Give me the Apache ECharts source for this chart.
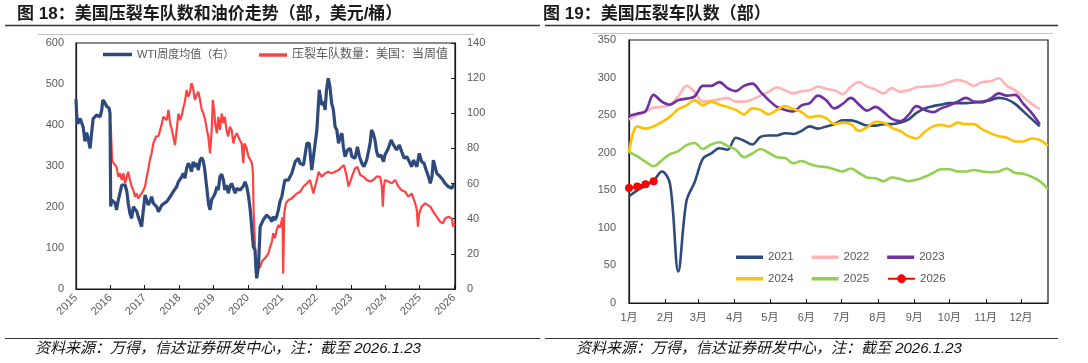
<!DOCTYPE html>
<html><head><meta charset="utf-8">
<script src="https://cdn.jsdelivr.net/npm/echarts@6/dist/echarts.min.js"></script>
<style>html,body{margin:0;padding:0;background:#fff}#c{width:1088px;height:363px}</style>
</head><body><div id="c"></div><script>
// ---------- Left chart data (decimal year, value) ----------
const wtiYears = [2015.00,2015.02,2015.05,2015.08,2015.12,2015.17,2015.21,2015.26,2015.31,2015.36,2015.41,2015.46,2015.50,2015.55,2015.60,2015.65,2015.70,2015.75,2015.78,2015.84,2015.89,2015.96,2015.99,
2016.01,2016.04,2016.09,2016.14,2016.18,2016.23,2016.28,2016.33,2016.38,2016.43,2016.48,2016.52,2016.57,2016.62,2016.67,2016.72,2016.77,2016.81,2016.86,2016.91,2016.96,
2017.01,2017.06,2017.10,2017.15,2017.20,2017.25,2017.30,2017.35,2017.40,2017.45,2017.50,2017.54,2017.64,2017.74,2017.83,2017.93,2017.98,
2018.03,2018.08,2018.12,2018.17,2018.22,2018.27,2018.32,2018.36,2018.41,2018.46,2018.51,2018.56,2018.61,2018.66,2018.70,2018.74,2018.78,2018.82,2018.86,2018.90,2018.95,
2019.00,2019.05,2019.10,2019.14,2019.19,2019.24,2019.29,2019.33,2019.38,2019.43,2019.48,2019.53,2019.58,2019.63,2019.68,2019.72,2019.77,2019.82,2019.87,2019.92,2019.97,
2020.02,2020.07,2020.12,2020.16,2020.21,2020.24,2020.26,2020.31,2020.36,2020.45,2020.55,2020.60,2020.65,2020.70,2020.74,2020.79,2020.84,2020.89,2020.94,2020.99,
2021.03,2021.08,2021.13,2021.18,2021.28,2021.38,2021.47,2021.52,2021.62,2021.72,2021.79,2021.86,2021.91,
2022.01,2022.08,2022.15,2022.20,2022.25,2022.29,2022.34,2022.39,2022.44,2022.49,2022.54,2022.59,2022.64,2022.69,2022.74,2022.78,2022.83,2022.90,2022.98,
2023.03,2023.12,2023.19,2023.25,2023.32,2023.38,2023.46,2023.56,2023.60,2023.65,2023.70,2023.75,2023.80,2023.87,2023.95,2023.99,
2024.09,2024.17,2024.24,2024.33,2024.41,2024.48,2024.55,2024.63,2024.70,2024.77,2024.82,2024.87,2024.92,2024.99,
2025.06,2025.13,2025.19,2025.26,2025.31,2025.36,2025.40,2025.45,2025.50,2025.60,2025.68,2025.74,2025.84,2025.94,2025.98,2026.02];
const wtiValues = [108,99,94,95,97,96,92,84,89,85,80,90,97,98,99,100,98,102,107.6,106,104,103,100,
47,50.6,51.6,48.8,45,50.6,54.5,59.2,60.1,59.2,55.4,48.8,43,40.2,46.8,46.8,44,41.2,38.3,35.5,45,
53.5,52.5,47.8,49.7,52.5,48.8,49.7,46.8,44,45.9,47.8,48.8,49.7,52.5,55.4,58.2,61,
62,63.9,65.8,63,68.7,71.6,69.6,66.8,72.4,69.6,71.6,67.7,73.4,74.7,73,69,62,55,48,45,51,
52.5,54.5,58.3,56.3,63.9,65.4,62,56.3,59.2,54.5,58.3,60.1,57.3,54.5,57.3,58.3,56.3,56.5,58.5,61,58.3,
53,45,33.6,24,22.2,10.8,6.1,12.7,35.5,39.3,42.1,43.1,40.2,38.3,41.2,39.3,41.2,45,50,52.5,
57,62,63,62,65.8,72.5,74.4,71.5,70.6,82.9,82.9,67.7,75.3,
90.5,113.3,104.7,106.6,101.9,113.3,119.9,115.2,105.7,101.9,92.4,90.5,82.9,86.7,88.6,81,75.3,79.1,80.1,
75.3,74.4,80.9,75.3,71.5,69.6,73.4,82.9,90.5,88.6,84.8,78.1,75.3,76.3,72.5,76.3,
80.1,84.8,82,79.1,82,78.1,74.4,75.3,72.5,69.6,73.4,71.5,69.6,77.2,
72.5,71.5,67.7,63.9,60.1,63.9,73.4,69.6,65.8,63.9,62,60.1,58.2,57.3,59.2,59];

const fracYears = [2016.00,2016.02,2016.05,2016.09,2016.14,2016.18,2016.23,2016.28,2016.33,2016.38,2016.43,2016.48,2016.52,2016.57,2016.62,2016.67,2016.72,2016.77,2016.81,2016.86,2016.91,2016.96,
2017.01,2017.06,2017.10,2017.15,2017.20,2017.25,2017.33,2017.40,2017.45,2017.50,2017.54,2017.59,2017.64,2017.69,2017.74,2017.79,2017.83,2017.88,2017.93,2017.98,
2018.03,2018.08,2018.12,2018.17,2018.22,2018.27,2018.32,2018.36,2018.41,2018.46,2018.51,2018.56,2018.61,2018.66,2018.71,2018.76,2018.81,2018.85,2018.90,2018.95,2018.98,
2019.02,2019.05,2019.10,2019.14,2019.19,2019.24,2019.29,2019.33,2019.38,2019.43,2019.48,2019.53,2019.58,2019.63,2019.68,2019.72,2019.77,2019.82,2019.87,2019.90,2019.95,
2020.02,2020.07,2020.12,2020.15,2020.17,2020.21,2020.24,2020.28,2020.36,2020.41,2020.45,2020.50,2020.55,2020.60,2020.65,2020.70,2020.74,2020.79,2020.84,2020.89,2020.94,2020.99,
2021.01,2021.03,2021.06,2021.11,2021.18,2021.28,2021.33,2021.43,2021.52,2021.62,2021.72,2021.81,2021.86,2021.91,2021.96,
2022.01,2022.06,2022.15,2022.25,2022.34,2022.44,2022.54,2022.64,2022.74,2022.80,2022.88,2022.93,
2023.03,2023.12,2023.19,2023.27,2023.37,2023.46,2023.56,2023.65,2023.75,2023.80,2023.85,2023.90,2023.93,2023.96,2023.99,
2024.09,2024.19,2024.29,2024.38,2024.48,2024.58,2024.67,2024.77,2024.87,2024.92,2024.95,2024.99,
2025.06,2025.16,2025.21,2025.31,2025.40,2025.50,2025.60,2025.68,2025.74,2025.84,2025.94,2025.97,2026.02];
const fracValues = [404,380,315,307,310,298,274,282,266,282,258,274,286,266,250,241,225,233,221,225,233,241,
250,274,290,315,331,355,372,373,388,404,420,424,412,437,404,388,372,351,388,428,
412,424,441,457,485,469,481,502,489,461,473,481,461,437,428,412,388,372,331,388,461,
437,404,380,420,388,428,404,420,388,372,396,388,355,372,380,372,363,355,307,355,347,
323,319,307,282,185,104,46,42,54,67,71,75,75,87,103,115,136,124,144,156,150,168,
175,38,185,209,217,221,225,233,237,250,258,266,262,233,250,
266,286,274,282,286,282,286,290,298,302,274,250,
274,294,298,278,274,266,262,266,274,278,274,250,201,250,266,
262,258,266,250,241,237,225,233,209,193,152,185,
201,209,213,201,188,176,164,160,172,176,172,152,160];

// ---------- Right chart data (weekly, index = week of year) ----------
const monthStartDays = [0,31,59,90,120,151,181,212,243,273,304,334];
const monthLabels = ['1月','2月','3月','4月','5月','6月','7月','8月','9月','10月','11月','12月'];
const y2021 = [142,150,156,163,175,158,42,136,161,192,199,206,204,220,216,211,221,223,223,226,225,229,235,232,235,238,243,243,240,236,236,238,238,240,244,253,259,262,264,266,266,266,267,268,270,273,271,265,255,245,235];
const y2022 = [244,250,255,260,261,264,275,289,281,268,269,271,273,268,268,271,276,281,287,283,279,282,283,288,285,283,278,288,294,288,284,279,286,281,283,287,288,289,290,294,297,294,289,294,295,299,289,283,274,265,258];
const y2023 = [249,252,255,277,268,264,270,272,275,289,289,294,286,282,289,292,281,270,261,257,255,263,266,276,270,259,265,273,264,256,261,254,245,242,250,262,257,254,259,263,268,273,268,267,272,279,276,277,265,253,238];
const y2024 = [200,235,232,235,241,248,258,263,270,263,268,264,261,257,251,259,257,251,257,262,258,254,247,249,246,238,240,238,229,234,241,240,233,229,222,219,228,235,237,235,240,238,238,231,226,222,220,215,215,219,217,209];
const y2025 = [201,195,188,182,190,198,202,210,213,205,211,214,209,204,194,199,205,200,194,193,186,189,185,182,181,178,175,179,173,167,166,162,167,165,162,164,168,173,178,178,175,175,177,175,174,175,179,173,172,168,162,152];
const y2026 = [153,155,158,162];
const yearNames = ['2021','2022','2023','2024','2025','2026'];
const yearColors = ['#2F4B7C','#FFB5B5','#7030A0','#FFC000','#92D050','#FF0000'];

const FONT = 'Arial, "Liberation Sans", "Noto Sans CJK SC", sans-serif';
const GRAY = '#595959';
const AX = '#1a1a1a';

const pairs = (xs, ys) => xs.map((x, i) => [x, ys[i]]);
const weekly = ys => ys.map((v, i) => [i * 7, v]);

const rightSeries = [y2021, y2022, y2023, y2024, y2025, y2026].map((arr, k) => ({
  name: yearNames[k], type: 'line', xAxisIndex: 1, yAxisIndex: 2,
  data: weekly(arr), smooth: k === 5 ? false : 0.35,
  symbol: k === 5 ? 'circle' : 'none', symbolSize: 8, showSymbol: k === 5,
  lineStyle: { color: yearColors[k], width: 2.6 },
  itemStyle: { color: yearColors[k] },
  z: 2 + k
}));

const lineLegend = (names, left, top, fontSize, w) => ({
  data: names.map(n => ({ name: n, icon: 'rect' })), left, top,
  itemWidth: w, itemHeight: 3.5, itemGap: 18,
  textStyle: { fontSize, color: GRAY, fontFamily: FONT }
});

const chart = echarts.init(document.getElementById('c'), null, { renderer: 'canvas' });
chart.setOption({
  backgroundColor: '#fff',
  animation: false,
  textStyle: { fontFamily: FONT },
  grid: [
    { left: 76, top: 43, width: 379, height: 246, show: true, borderColor: AX, borderWidth: 1.2 },
    { left: 629, top: 40, width: 419, height: 263, show: true, borderColor: AX, borderWidth: 1.2 }
  ],
  legend: [
    lineLegend(['WTI周度均值（右）'], 98, 44, 11, 29),
    lineLegend(['压裂车队数量：美国：当周值'], 254, 44, 12, 28),
    lineLegend(['2021', '2022', '2023'], 731, 246.5, 11.5, 27),
    lineLegend(['2024', '2025'], 731, 268, 11.5, 27),
    { data: ['2026'], left: 882, top: 268, itemWidth: 27, itemHeight: 11,
      textStyle: { fontSize: 11.5, color: GRAY, fontFamily: FONT } }
  ],
  xAxis: [
    { type: 'value', gridIndex: 0, min: 2015, max: 2026.03, interval: 1,
      axisLine: { show: true, lineStyle: { color: AX, width: 1.2 } },
      axisTick: { show: true, inside: true, length: 4, lineStyle: { color: AX } },
      splitLine: { show: false },
      axisLabel: { rotate: 45, margin: 7, color: GRAY, fontSize: 11, formatter: v => String(Math.round(v)) } },
    { type: 'value', gridIndex: 1, min: 0, max: 357,
      axisLine: { show: true, lineStyle: { color: AX, width: 1.2 } },
      axisTick: { show: true, inside: true, length: 4, lineStyle: { color: AX }, customValues: monthStartDays },
      splitLine: { show: false },
      axisLabel: { customValues: monthStartDays, margin: 9, color: GRAY, fontSize: 11,
        formatter: v => monthLabels[monthStartDays.indexOf(v)] } }
  ],
  yAxis: [
    { type: 'value', gridIndex: 0, position: 'left', min: 0, max: 600, interval: 100,
      axisLine: { show: true, lineStyle: { color: AX, width: 1.2 } }, axisTick: { show: false },
      splitLine: { show: false }, axisLabel: { color: GRAY, fontSize: 11, margin: 12 } },
    { type: 'value', gridIndex: 0, position: 'right', min: 0, max: 140, interval: 20,
      axisLine: { show: true, lineStyle: { color: AX, width: 1.2 } },
      axisTick: { show: true, inside: true, length: 4, lineStyle: { color: AX } },
      splitLine: { show: false }, axisLabel: { color: GRAY, fontSize: 11, margin: 12 } },
    { type: 'value', gridIndex: 1, min: 0, max: 350, interval: 50,
      axisLine: { show: true, lineStyle: { color: AX, width: 1.2 } }, axisTick: { show: false },
      splitLine: { show: false }, axisLabel: { color: GRAY, fontSize: 11, margin: 13 } }
  ],
  series: [
    { name: '压裂车队数量：美国：当周值', type: 'line', xAxisIndex: 0, yAxisIndex: 0,
      data: pairs(fracYears, fracValues), symbol: 'none', showSymbol: false,
      lineStyle: { color: '#FF4343', width: 2.2 }, itemStyle: { color: '#FF4343' }, z: 2 },
    { name: 'WTI周度均值（右）', type: 'line', xAxisIndex: 0, yAxisIndex: 1,
      data: pairs(wtiYears, wtiValues), symbol: 'none', showSymbol: false,
      lineStyle: { color: '#2E4A7D', width: 3.2 }, itemStyle: { color: '#2E4A7D' }, z: 3 }
  ].concat(rightSeries),
  graphic: [
    { type: 'text', left: 17, top: 6, style: { text: '图 18：美国压裂车队数和油价走势（部，美元/桶）',
      font: 'bold 17px Arial, "Noto Sans CJK SC", sans-serif', fill: '#1a1a1a' } },
    { type: 'text', left: 543, top: 6, style: { text: '图 19：美国压裂车队数（部）',
      font: 'bold 17px Arial, "Noto Sans CJK SC", sans-serif', fill: '#1a1a1a' } },
    { type: 'line', shape: { x1: 5, y1: 25.5, x2: 540, y2: 25.5 }, style: { stroke: '#333', lineWidth: 1.5 } },
    { type: 'line', shape: { x1: 545, y1: 25.5, x2: 1058, y2: 25.5 }, style: { stroke: '#333', lineWidth: 1.5 } },
    { type: 'line', shape: { x1: 38, y1: 34.5, x2: 474, y2: 34.5 }, style: { stroke: '#c4c4c4', lineWidth: 1 } },
    { type: 'line', shape: { x1: 593, y1: 33.5, x2: 1053, y2: 33.5 }, style: { stroke: '#c4c4c4', lineWidth: 1 } },
    { type: 'line', shape: { x1: 5, y1: 338.5, x2: 540, y2: 338.5 }, style: { stroke: '#333', lineWidth: 1 } },
    { type: 'line', shape: { x1: 545, y1: 338.5, x2: 1058, y2: 338.5 }, style: { stroke: '#333', lineWidth: 1 } },
    { type: 'text', left: 35, top: 341, style: { text: '资料来源：万得，信达证券研发中心，注：截至 2026.1.23',
      font: 'italic 15px Arial, "Noto Sans CJK SC", sans-serif', fill: '#111' } },
    { type: 'text', left: 576, top: 341, style: { text: '资料来源：万得，信达证券研发中心，注：截至 2026.1.23',
      font: 'italic 15px Arial, "Noto Sans CJK SC", sans-serif', fill: '#111' } }
  ]
});
</script></body></html>
